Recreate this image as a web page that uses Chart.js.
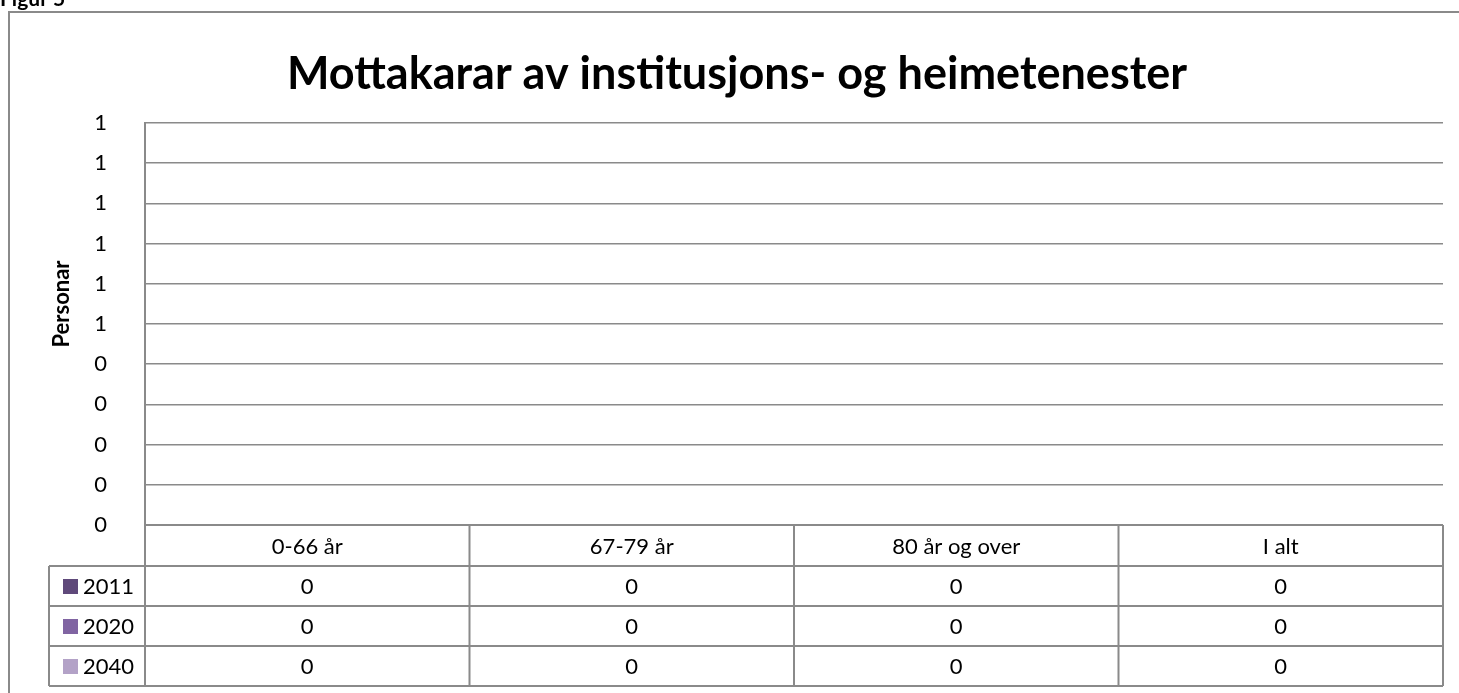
<!DOCTYPE html>
<html>
<head>
<meta charset="utf-8">
<script src="https://cdn.jsdelivr.net/npm/chart.js@4.4.1/dist/chart.umd.min.js"></script>
<style>
  html, body { margin: 0; padding: 0; background: #fff; }
  #wrap { width: 1459px; height: 693px; }
</style>
</head>
<body>
<div id="wrap"><canvas id="chart"></canvas></div>
<script>
// data
const categories = ['0-66 år', '67-79 år', '80 år og over', 'I alt'];
const seriesNames = ['2011', '2020', '2040'];
const values2011 = [0, 0, 0, 0];
const values2020 = [0, 0, 0, 0];
const values2040 = [0, 0, 0, 0];
const seriesColors = ['#5f497a', '#8064a2', '#b3a2c7'];
const chartTitle = 'Mottakarar av institusjons- og heimetenester';
const yTitle = 'Personar';

const FONT = 'Lato, "Open Sans", sans-serif';
const LINE = '#8a8a8a';

// draws the frame, titles and the data table under the plot
const tablePlugin = {
  id: 'dataTable',
  afterDraw(chart) {
    const ctx = chart.ctx;
    const area = chart.chartArea;
    const x = chart.scales.x;
    const rowH = 40;
    const legLeft = 49;
    const top = area.bottom + 41;
    const rows = chart.data.datasets.length;

    ctx.save();
    // outer frame
    ctx.strokeStyle = LINE;
    ctx.lineWidth = 2;
    ctx.beginPath();
    ctx.moveTo(9, 700);
    ctx.lineTo(9, 12);
    ctx.lineTo(1470, 12);
    ctx.stroke();

    ctx.fillStyle = '#000';
    ctx.font = 'bold 21px ' + FONT;
    ctx.textBaseline = 'alphabetic';
    ctx.textAlign = 'left';
    ctx.fillText('Figur 5', 0, 6);

    // chart title
    ctx.font = 'bold 45px ' + FONT;
    ctx.textAlign = 'center';
    ctx.fillText(chartTitle, 737, 89);

    // y axis title
    ctx.save();
    ctx.translate(69, 304);
    ctx.rotate(-Math.PI / 2);
    ctx.font = 'bold 22px ' + FONT;
    ctx.textAlign = 'center';
    ctx.textBaseline = 'alphabetic';
    ctx.fillText(yTitle, 0, 0);
    ctx.restore();

    // table grid
    ctx.lineWidth = 2;
    ctx.beginPath();
    ctx.moveTo(area.left, area.bottom);
    ctx.lineTo(area.right, area.bottom);
    for (let r = 0; r <= rows; r++) {
      const y = top + r * rowH;
      ctx.moveTo(legLeft, y);
      ctx.lineTo(area.right, y);
    }
    ctx.moveTo(legLeft, top);
    ctx.lineTo(legLeft, top + rows * rowH);
    const step = (area.right - area.left) / categories.length;
    for (let i = 0; i <= categories.length; i++) {
      const cx = area.left + i * step;
      ctx.moveTo(cx, area.bottom);
      ctx.lineTo(cx, top + rows * rowH);
    }
    ctx.stroke();

    // legend keys and values
    ctx.font = '22px ' + FONT;
    ctx.textBaseline = 'middle';
    chart.data.datasets.forEach((ds, r) => {
      const cy = top + r * rowH + rowH / 2;
      ctx.fillStyle = ds.backgroundColor;
      ctx.fillRect(63, cy - 7, 15, 15);
      ctx.fillStyle = '#000';
      ctx.textAlign = 'left';
      ctx.fillText(ds.label, 83, cy + 1);
      ctx.textAlign = 'center';
      ds.data.forEach((v, i) => {
        ctx.fillText(String(v), x.getPixelForValue(i), cy + 1);
      });
    });
    ctx.restore();
  }
};

const data = {
  labels: categories,
  datasets: [
    { label: seriesNames[0], data: values2011, backgroundColor: seriesColors[0] },
    { label: seriesNames[1], data: values2020, backgroundColor: seriesColors[1] },
    { label: seriesNames[2], data: values2040, backgroundColor: seriesColors[2] }
  ]
};

const config = {
  type: 'bar',
  data: data,
  options: {
    responsive: true,
    maintainAspectRatio: false,
    animation: false,
    layout: { padding: { left: 0, right: 16, top: 123, bottom: 0 } },
    plugins: {
      legend: { display: false },
      tooltip: { enabled: false },
      title: { display: false }
    },
    scales: {
      y: {
        min: 0,
        max: 1,
        ticks: {
          stepSize: 0.1,
          color: '#000',
          padding: 38,
          font: { family: FONT, size: 22 },
          callback: v => Math.round(v)
        },
        grid: { color: LINE, lineWidth: 1.5, drawTicks: false },
        border: { color: LINE, width: 2 },
        afterFit: s => { s.width = 145; }
      },
      x: {
        ticks: {
          color: '#000',
          padding: 9,
          font: { family: FONT, size: 22 }
        },
        grid: { display: false, drawTicks: false },
        border: { display: false },
        afterFit: s => { s.height = 168; }
      }
    }
  },
  plugins: [tablePlugin]
};

const chart = new Chart(document.getElementById('chart'), config);
</script>
</body>
</html>
